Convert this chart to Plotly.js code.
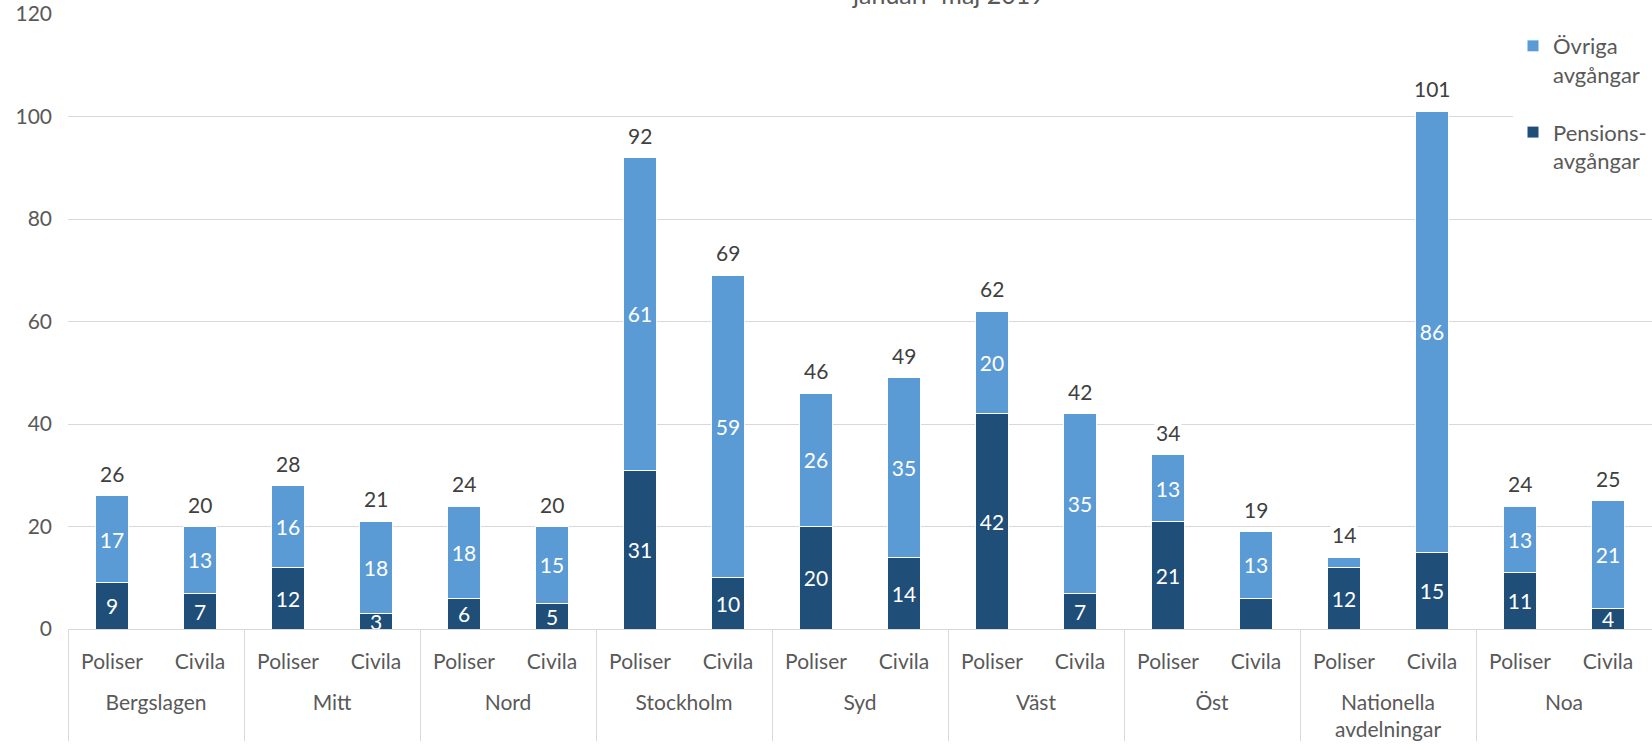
<!DOCTYPE html>
<html>
<head>
<meta charset="utf-8">
<script src="https://cdn.plot.ly/plotly-3.0.1.min.js"></script>
<style>
html,body{margin:0;padding:0;background:#fff;}
#chart{width:1652px;height:750px;}
</style>
</head>
<body>
<div id="chart"></div>
<script>
const regions = ["Bergslagen","Mitt","Nord","Stockholm","Syd","Väst","Öst","Nationella<br>avdelningar","Noa"];
const staffTypes = ["Poliser","Civila"];
// per region: [Poliser, Civila]
const pension = [9,7, 12,3, 6,5, 31,10, 20,14, 42,7, 21,6, 12,15, 11,4];
const other   = [17,13, 16,18, 18,15, 61,59, 26,35, 20,35, 13,13, 2,86, 13,21];
const pensionLabels = ["9","7","12","3","6","5","31","10","20","14","42","7","21","","12","15","11","4"];
const otherLabels   = ["17","13","16","18","18","15","61","59","26","35","20","35","13","13","","86","13","21"];
const totals = [26,20, 28,21, 24,20, 92,69, 46,49, 62,42, 34,19, 14,101, 24,25];
const yTicks = [0,20,40,60,80,100,120];
const titleText = "januari–maj 2019";

const xGroup = [], xSub = [];
regions.forEach(r => staffTypes.forEach(s => { xGroup.push("<br>" + r); xSub.push(s); }));

const FONT = "Lato, 'Open Sans', sans-serif";
const dark = "#1F4E79", light = "#5B9BD5";

const traces = [
  {type:"bar", name:"Pensions-<br>avgångar", legendgroup:"p", legendrank:2, x:[xGroup,xSub], y:pension,
   marker:{color:dark, line:{color:"#ffffff", width:1}},
   text:pensionLabels, textposition:"inside", insidetextanchor:"middle", textangle:0,
   constraintext:"none", textfont:{color:"#ffffff", size:21, family:FONT},
   hoverinfo:"y"},
  {type:"bar", name:"Övriga<br>avgångar", legendgroup:"o", legendrank:1, x:[xGroup,xSub], y:other,
   marker:{color:light, line:{color:"#ffffff", width:1}},
   text:otherLabels, textposition:"inside", insidetextanchor:"middle", textangle:0,
   constraintext:"none", textfont:{color:"#ffffff", size:21, family:FONT},
   hoverinfo:"y"}
];

const annotations = totals.map((t,i) => ({
  x:i, xref:"x", y:t, yref:"y", text:String(t), showarrow:false,
  yanchor:"bottom", yshift:8, bgcolor:"#ffffff", borderpad:1,
  font:{size:21, color:"#404040", family:FONT}
}));
annotations.push({
  x:(948-68)/(1652-68), xref:"paper", y:1, yref:"paper", text:titleText, showarrow:false,
  xanchor:"center", yanchor:"bottom", yshift:3,
  font:{size:25, color:"#595959", family:FONT}
});

const layout = {
  width:1652, height:750,
  margin:{l:68, r:0, t:14, b:121, pad:0, autoexpand:false},
  paper_bgcolor:"#ffffff", plot_bgcolor:"#ffffff",
  barmode:"stack", bargap:0.62,
  font:{family:FONT, color:"#595959", size:21},
  showlegend:true,
  legend:{x:1, y:0.982, xanchor:"right", yanchor:"top", bgcolor:"#ffffff",
          traceorder:"grouped", valign:"top",
          font:{size:22, color:"#595959", family:FONT},
          tracegroupgap:26},
  xaxis:{type:"multicategory", range:[-0.5,17.5], autorange:false,
         showline:true, linecolor:"#d9d9d9", linewidth:1,
         showdividers:true, dividercolor:"#d9d9d9", dividerwidth:1,
         ticks:"", ticklabelstandoff:14, tickfont:{size:21, color:"#595959", family:FONT},
         showgrid:false, zeroline:false},
  yaxis:{range:[0,120], autorange:false, tickvals:yTicks, ticktext:yTicks.map(String),
         showgrid:true, gridcolor:"#d9d9d9", gridwidth:1, zeroline:false,
         showline:false, ticks:"", ticklabelstandoff:15,
         tickfont:{size:21, color:"#595959", family:FONT}},
  annotations:annotations
};

Plotly.newPlot("chart", traces, layout, {displayModeBar:false, staticPlot:true});
</script>
</body>
</html>
